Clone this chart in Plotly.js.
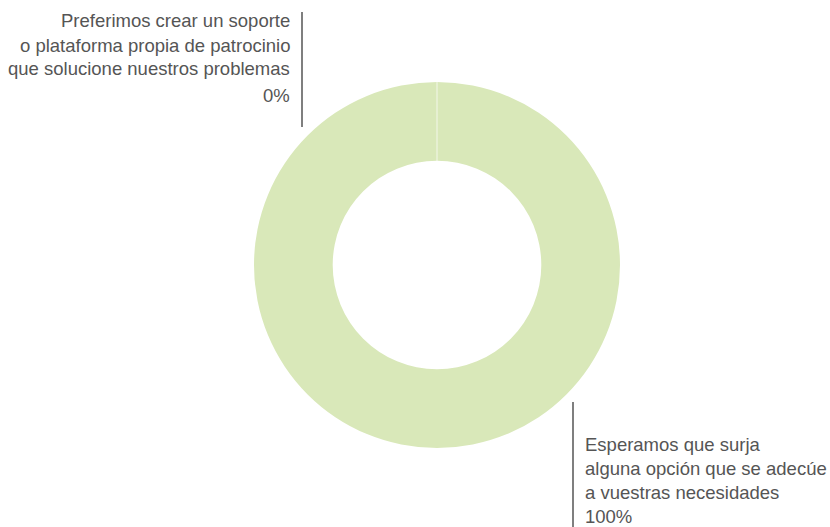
<!DOCTYPE html>
<html><head><meta charset="utf-8">
<script src="https://cdn.plot.ly/plotly-3.0.1.min.js"></script>
<style>body{margin:0;background:#fff}#c{width:830px;height:527px}</style>
</head><body><div id="c"></div>
<script>
const labels = [
  "Preferimos crear un soporte o plataforma propia de patrocinio que solucione nuestros problemas",
  "Esperamos que surja alguna opción que se adecúe a vuestras necesidades"
];
const values = [0, 100];
const pctText = ["0%", "100%"];
const labelLines = [
  ["Preferimos crear un soporte", "o plataforma propia de patrocinio", "que solucione nuestros problemas"],
  ["Esperamos que surja", "alguna opción que se adecúe", "a vuestras necesidades"]
];
const sliceColor = "#d9e8b9";
const W = 830, H = 527;
const px = x => x / W, py = y => 1 - y / H;
const font = {family: "Liberation Sans, Arial, sans-serif", size: 18.5, color: "#555555"};

const annotations = [];
// top-left label (right aligned)
[20, 45, 69].forEach((y, i) => annotations.push({
  x: px(292), y: py(y), xref: "paper", yref: "paper", text: labelLines[0][i],
  showarrow: false, xanchor: "right", yanchor: "middle", font: font
}));
annotations.push({x: px(292), y: py(95), xref: "paper", yref: "paper", text: pctText[0],
  showarrow: false, xanchor: "right", yanchor: "middle", font: font});
// bottom-right label (left aligned)
[444, 468, 492].forEach((y, i) => annotations.push({
  x: px(583), y: py(y), xref: "paper", yref: "paper", text: labelLines[1][i],
  showarrow: false, xanchor: "left", yanchor: "middle", font: font
}));
annotations.push({x: px(583), y: py(516), xref: "paper", yref: "paper", text: pctText[1],
  showarrow: false, xanchor: "left", yanchor: "middle", font: font});

const shapes = [
  {type: "line", xref: "paper", yref: "paper", x0: px(302), x1: px(302), y0: py(12), y1: py(127),
   line: {color: "#555555", width: 1.5}},
  {type: "line", xref: "paper", yref: "paper", x0: px(573), x1: px(573), y0: py(402), y1: py(527),
   line: {color: "#555555", width: 1.5}},
  {type: "line", xref: "paper", yref: "paper", x0: px(437), x1: px(437), y0: py(82), y1: py(161),
   line: {color: "#ffffff", width: 1}, opacity: 0.7}
];

Plotly.newPlot("c", [{
  type: "pie", labels: labels, values: values, hole: 0.57, sort: false,
  direction: "clockwise", rotation: 0,
  marker: {colors: [sliceColor, sliceColor], line: {width: 0}},
  textinfo: "none", hoverinfo: "label+percent",
  domain: {x: [px(254), px(620)], y: [py(448), py(82)]}
}], {
  width: W, height: H, margin: {l: 0, r: 0, t: 0, b: 0},
  showlegend: false, paper_bgcolor: "#ffffff",
  annotations: annotations, shapes: shapes
}, {displayModeBar: false, staticPlot: true});
</script></body></html>
